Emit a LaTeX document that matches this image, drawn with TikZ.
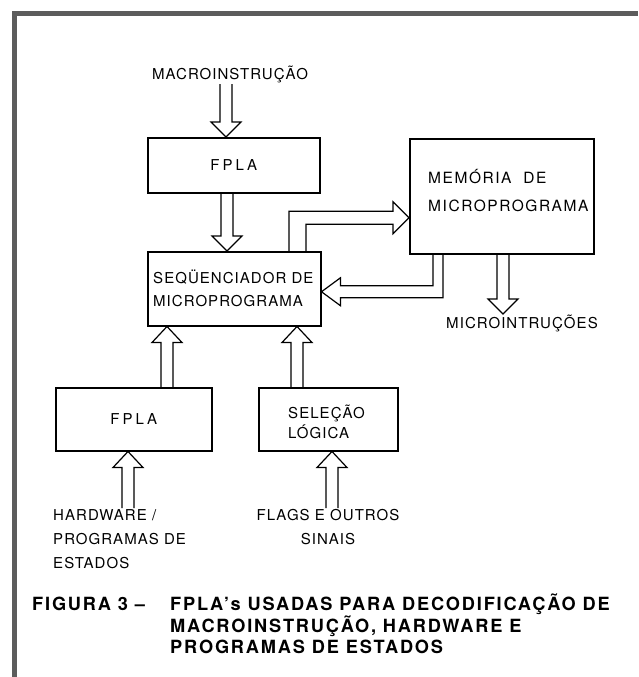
\documentclass[tikz,border=0pt]{standalone}
\usepackage{fontspec}
\setmainfont{TeX Gyre Heros}
\newfontfamily\lblfont[LetterSpace=7]{TeX Gyre Heros}
\newfontfamily\memfont[LetterSpace=10]{TeX Gyre Heros}
\newfontfamily\capfont[LetterSpace=10]{TeX Gyre Heros}
\usetikzlibrary{calc}
\definecolor{framecol}{gray}{0.36}
\tikzset{
  box/.style={draw, line width=1.5pt, anchor=north west, inner sep=0pt},
  hollow/.style={draw, line width=1.2pt, line join=miter},
  lbl/.style={font=\lblfont\fontsize{15}{23}\selectfont, inner sep=1pt},
  captxt/.style={font=\capfont\bfseries\fontsize{18.2}{21.5}\selectfont, inner sep=0pt, anchor=base west},
}
\newcommand\hdown[3]{\draw[hollow] let \p1=(#2), \p2=(#3) in
  (#1pt-6pt,\y1) -- (#1pt-6pt,\y2+15pt) -- (#1pt-15pt,\y2+15pt) -- (#1pt,\y2)
  -- (#1pt+15pt,\y2+15pt) -- (#1pt+6pt,\y2+15pt) -- (#1pt+6pt,\y1);}
\newcommand\hup[3]{\draw[hollow] let \p1=(#2), \p2=(#3) in
  (#1pt-6pt,\y1) -- (#1pt-6pt,\y2-16pt) -- (#1pt-15pt,\y2-16pt) -- (#1pt,\y2)
  -- (#1pt+15pt,\y2-16pt) -- (#1pt+6pt,\y2-16pt) -- (#1pt+6pt,\y1);}
\begin{document}
\begin{tikzpicture}[x=1pt,y=-1pt]
\useasboundingbox (0,0) rectangle (638,677);
\fill[white] (0,0) rectangle (638,677);
% frame
\draw[framecol, line width=5pt] (14,677) -- (14,14) -- (638,14);
% boxes
\node[box, minimum width=172pt, minimum height=55pt] (fpla1) at (147,137) {};
\node[lbl] at (fpla1.center) {F\hspace{3pt}P\hspace{3pt}L\hspace{3pt}A};
\node[box, minimum width=173pt, minimum height=74pt] (seq) at (147,251) {};
\node[lbl, anchor=west, align=left] at (152,288.5) {SEQÜENCIADOR DE\\MICROPROGRAMA};
\node[box, minimum width=184pt, minimum height=115pt] (mem) at (409,138) {};
\node[lbl, anchor=west, align=left, font=\memfont\fontsize{15.5}{28}\selectfont] at (427,191) {MEMÓRIA\hspace{6pt} DE\\MICROPROGRAMA};
\node[box, minimum width=156pt, minimum height=63pt] (fpla2) at (55,387) {};
\node[lbl] at (fpla2.center) {F\hspace{3pt}P\hspace{3pt}L\hspace{3pt}A};
\node[box, minimum width=139pt, minimum height=63pt] (sel) at (258,387) {};
\node[lbl, anchor=west, align=left, font=\lblfont\fontsize{15}{20}\selectfont] at (287,422) {SELEÇÃO\\LÓGICA};
% labels
\node[lbl, anchor=south] (macro) at (230,84) {MACROINSTRUÇÃO};
\node[lbl, anchor=north] (micro) at (522,314) {MICROINTRUÇÕES};
\node[lbl, anchor=north west, align=left, font=\lblfont\fontsize{15}{24}\selectfont] (hw) at (52,508) {HARDWARE /\\PROGRAMAS DE\\ESTADOS};
\node[lbl, anchor=north, align=center, font=\lblfont\fontsize{15}{24}\selectfont] (flags) at (328,508) {FLAGS E OUTROS\\SINAIS};
% hollow arrows
\hdown{226}{macro.south}{fpla1.north}
\hdown{227}{fpla1.south}{seq.north}
\hdown{503}{mem.south}{micro.north}
\hup{167}{fpla2.north}{seq.south}
\hup{297}{sel.north}{seq.south}
\hup{128}{hw.north}{fpla2.south}
\hup{332}{flags.north}{sel.south}
\draw[hollow] let \p1=(seq.north), \p2=([yshift=-21.5pt]mem.west) in
  (289pt,\y1) -- (289pt,\y2+6.5pt) -- (\x2-16pt,\y2+6.5pt) -- (\x2-16pt,\y2+16pt)
  -- (\x2,\y2) -- (\x2-16pt,\y2-16pt) -- (\x2-16pt,\y2-6.5pt) -- (306pt,\y2-6.5pt) -- (306pt,\y1);
\draw[hollow] let \p1=(mem.south), \p2=([yshift=-3pt]seq.east) in
  (443pt,\y1) -- (443pt,\y2-6pt) -- (\x2+19pt,\y2-6pt) -- (\x2+19pt,\y2-14pt)
  -- (\x2,\y2) -- (\x2+19pt,\y2+14pt) -- (\x2+19pt,\y2+6pt) -- (433pt,\y2+6pt) -- (433pt,\y1);
% caption
\node[captxt] (fig) at (32,610.5) {FIGURA 3 –};
\node[captxt] (cap) at (170,610.5)
  {\vtop{\hbox{FPLA’s USADAS PARA DECODIFICAÇÃO DE}\hbox{MACROINSTRUÇÃO, HARDWARE E}\hbox{PROGRAMAS DE ESTADOS}}};
\end{tikzpicture}
\end{document}
